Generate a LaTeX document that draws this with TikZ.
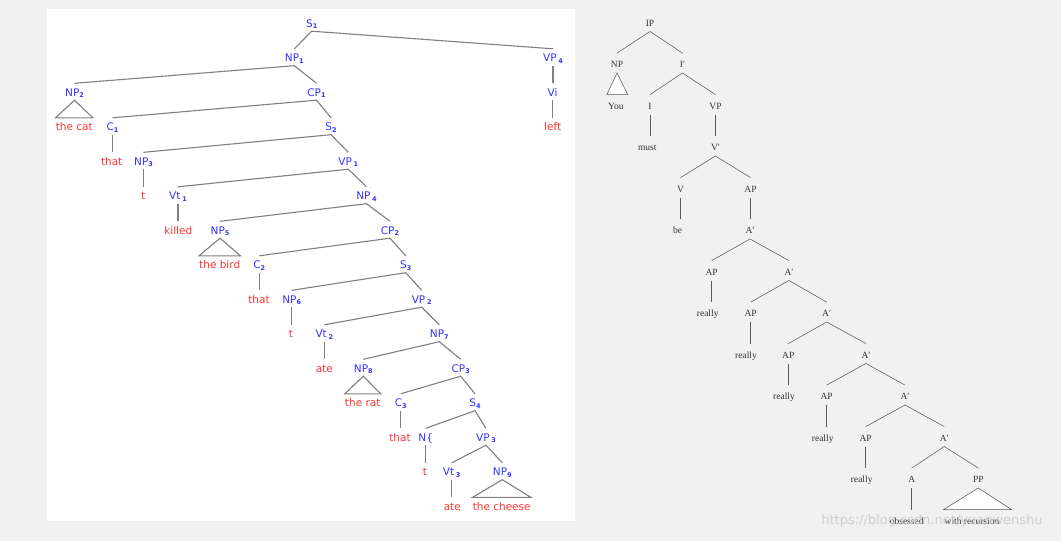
\documentclass[tikz,border=0pt]{standalone}
\usepackage{fontspec}
\newfontfamily\lfont{DejaVu Sans}
\newfontfamily\rfont{Liberation Serif}
\definecolor{bgc}{HTML}{F1F1F1}
\definecolor{nbl}{HTML}{3535FF}
\definecolor{wrd}{HTML}{FF3333}
\definecolor{lnc}{HTML}{808080}
\definecolor{rlc}{HTML}{5A5A5A}
\definecolor{rtc}{HTML}{333333}
\newcommand\sbs[1]{\raisebox{-1.8pt}{\fontsize{6.5}{6.5}\selectfont\bfseries #1}}
\tikzset{
 lnode/.style={anchor=base, inner sep=0pt, text height=12.5pt, text depth=4pt, font=\lfont\fontsize{10.5}{12}\selectfont},
 cat/.style={lnode, text=nbl},
 wd/.style={lnode, text=wrd},
 ledge/.style={draw=lnc, line width=1.1pt},
 rnode/.style={anchor=base, inner sep=0pt, text height=14.5pt, text depth=5pt, text=rtc, font=\rfont\fontsize{9.5}{11}\selectfont},
 redge/.style={draw=rlc, line width=0.55pt},
}
\begin{document}
\begin{tikzpicture}[x=1pt,y=-1pt]
\fill[bgc] (0,0) rectangle (1061,541);
\useasboundingbox (0,0) rectangle (1061,541);
\fill[white] (47,9) rectangle (575,521);
% ---------- left tree ----------
\node[cat] (S1) at (311.7,27) {S\sbs{1}};
\node[cat] (NP1) at (294.3,61.5) {NP\sbs{1}};
\node[cat] (VP4) at (553,61.5) {VP\,\sbs{4}};
\node[cat] (NP2) at (74.5,96) {NP\sbs{2}};
\node[cat] (CP1) at (316.5,96) {CP\sbs{1}};
\node[cat] (Vi) at (552.5,96) {Vi};
\node[wd] (thecat) at (74.2,130.5) {the cat};
\node[cat] (C1) at (112.5,130.5) {C\sbs{1}};
\node[cat] (S2) at (331,130.5) {S\sbs{2}};
\node[wd] (left) at (552.7,130.5) {left};
\node[wd] (that1) at (111.7,165) {that};
\node[cat] (NP3) at (143.5,165) {NP\sbs{3}};
\node[cat] (VP1) at (348.3,165) {VP\,\sbs{1}};
\node[wd] (t1) at (143.3,199.5) {t};
\node[cat] (Vt1) at (178,199.5) {Vt\,\sbs{1}};
\node[cat] (NP4) at (366.5,199.5) {NP\,\sbs{4}};
\node[wd] (killed) at (178.3,234) {killed};
\node[cat] (NP5) at (220,234) {NP\sbs{5}};
\node[cat] (CP2) at (390,234) {CP\sbs{2}};
\node[wd] (thebird) at (219.7,268.5) {the bird};
\node[cat] (C2) at (259.3,268.5) {C\sbs{2}};
\node[cat] (S3) at (405.7,268.5) {S\sbs{3}};
\node[wd] (that2) at (259,303) {that};
\node[cat] (NP6) at (291.7,303) {NP\sbs{6}};
\node[cat] (VP2) at (421.7,303) {VP\,\sbs{2}};
\node[wd] (t2) at (291,337.5) {t};
\node[cat] (Vt2) at (324.3,337.5) {Vt\,\sbs{2}};
\node[cat] (NP7) at (439.3,337.5) {NP\sbs{7}};
\node[wd] (ate1) at (324.3,372) {ate};
\node[cat] (NP8) at (363.3,372) {NP\sbs{8}};
\node[cat] (CP3) at (460.7,372) {CP\sbs{3}};
\node[wd] (therat) at (362.7,406.5) {the rat};
\node[cat] (C3) at (400.7,406.5) {C\sbs{3}};
\node[cat] (S4) at (475,406.5) {S\sbs{4}};
\node[wd] (that3) at (400,441) {that};
\node[cat] (Nb) at (425.7,441) {N\{};
\node[cat] (VP3) at (486,441) {VP\,\sbs{3}};
\node[wd] (t3) at (425,475.5) {t};
\node[cat] (Vt3) at (451.7,475.5) {Vt\,\sbs{3}};
\node[cat] (NP9) at (502.3,475.5) {NP\sbs{9}};
\node[wd] (ate2) at (452.3,510) {ate};
\node[wd] (thecheese) at (501.7,510) {the cheese};
% edges
\foreach \p/\a/\b in {S1/NP1/VP4, NP1/NP2/CP1, CP1/C1/S2, S2/NP3/VP1, VP1/Vt1/NP4, NP4/NP5/CP2, CP2/C2/S3, S3/NP6/VP2, VP2/Vt2/NP7, NP7/NP8/CP3, CP3/C3/S4, S4/Nb/VP3, VP3/Vt3/NP9}
  \path[ledge] (\a.north) -- (\p.south) -- (\b.north);
\foreach \p/\c in {VP4/Vi, Vi/left, C1/that1, NP3/t1, Vt1/killed, C2/that2, NP6/t2, Vt2/ate1, C3/that3, Nb/t3, Vt3/ate2}
  \path[ledge] (\p.south) -- (\p.south |- \c.north);
\foreach \p/\c in {NP2/thecat, NP5/thebird, NP8/therat, NP9/thecheese}
  \path[ledge, line join=miter] (\p.south) -- (\c.north west) -- (\c.north east) -- cycle;
% ---------- right tree ----------
\node[rnode] (IP) at (650,26.3) {IP};
\node[rnode] (NP) at (617,67.8) {NP};
\node[rnode] (Ib) at (682.5,67.8) {I′};
\node[rnode] (You) at (615.8,109.3) {You};
\node[rnode] (I) at (650,109.3) {I};
\node[rnode] (VP) at (715.5,109.3) {VP};
\node[rnode] (must) at (647.3,150.8) {must};
\node[rnode] (Vb) at (715.5,150.8) {V′};
\node[rnode] (V) at (680.5,192.3) {V};
\node[rnode] (AP1) at (750.5,192.3) {AP};
\node[rnode] (be) at (677.7,233.8) {be};
\node[rnode] (Ab1) at (750,233.8) {A′};
\node[rnode] (AP2) at (711.7,275.3) {AP};
\node[rnode] (Ab2) at (789,275.3) {A′};
\node[rnode] (re2) at (707.7,316.8) {really};
\node[rnode] (AP3) at (750.7,316.8) {AP};
\node[rnode] (Ab3) at (826.7,316.8) {A′};
\node[rnode] (re3) at (746,358.3) {really};
\node[rnode] (AP4) at (788.3,358.3) {AP};
\node[rnode] (Ab4) at (866,358.3) {A′};
\node[rnode] (re4) at (784,399.8) {really};
\node[rnode] (AP5) at (826.7,399.8) {AP};
\node[rnode] (Ab5) at (905,399.8) {A′};
\node[rnode] (re5) at (822.7,441.3) {really};
\node[rnode] (AP6) at (865.7,441.3) {AP};
\node[rnode] (Ab6) at (944.3,441.3) {A′};
\node[rnode] (re6) at (861.7,482.8) {really};
\node[rnode] (A) at (911.7,482.8) {A};
\node[rnode] (PP) at (978.3,482.8) {PP};
\node[rnode] (obs) at (906.7,524.3) {obsessed};
\node[rnode] (wrec) at (972,524.3) {with recursion};
\foreach \p/\a/\b in {IP/NP/Ib, Ib/I/VP, Vb/V/AP1, Ab1/AP2/Ab2, Ab2/AP3/Ab3, Ab3/AP4/Ab4, Ab4/AP5/Ab5, Ab5/AP6/Ab6, Ab6/A/PP}
  \path[redge] (\a.north) -- (\p.south) -- (\b.north);
\foreach \p/\c in {I/must, VP/Vb, V/be, AP1/Ab1, AP2/re2, AP3/re3, AP4/re4, AP5/re5, AP6/re6, A/obs}
  \path[redge] (\p.south) -- (\p.south |- \c.north);
\path[redge, fill=white] (NP.south) -- ([xshift=-1pt]You.north west) -- ([xshift=4pt]You.north east) -- cycle;
\path[redge, fill=white] (PP.south) -- ([xshift=-1pt]wrec.north west) -- ([xshift=12pt]wrec.north east) -- cycle;
% watermark
\node[text=black!22, opacity=0.8, inner sep=0pt, font=\lfont\fontsize{13}{15}\selectfont] (wm) at (932,521) {https://blog.csdn.net/yuanwenshu};
\end{tikzpicture}
\end{document}
